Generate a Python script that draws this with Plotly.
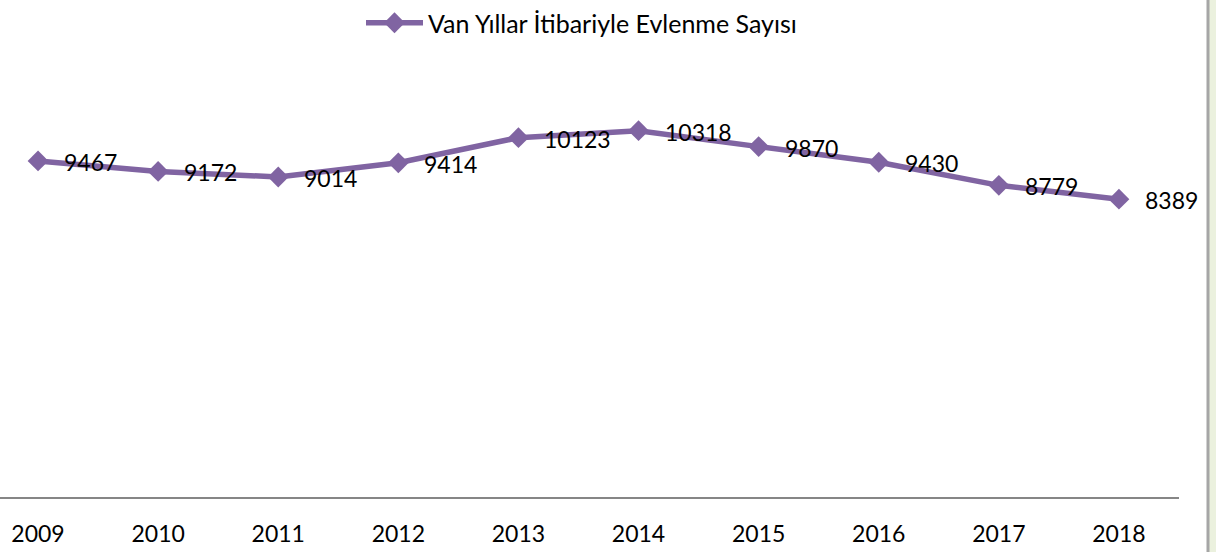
import plotly.graph_objects as go

years = ["2009", "2010", "2011", "2012", "2013", "2014", "2015", "2016", "2017", "2018"]
marriages = [9467, 9172, 9014, 9414, 10123, 10318, 9870, 9430, 8779, 8389]
series_name = "Van Yıllar İtibariyle Evlenme Sayısı"

W, H = 1216, 552
ML, MR, MT, MB = 0, 37, 71, 55
PW = W - ML - MR
PH = H - MT - MB

PURPLE = "#8064A2"
FONT = "Lato"

xs = list(range(len(years)))

fig = go.Figure()
fig.add_trace(go.Scatter(
    x=xs, y=marriages, mode="lines+markers", name=series_name,
    line=dict(color=PURPLE, width=5.5),
    marker=dict(symbol="diamond", size=16, color=PURPLE),
    hoverinfo="skip",
))

for x, v in zip(xs, marriages):
    fig.add_annotation(x=x, y=v, text=str(v), showarrow=False,
                       xanchor="left", yanchor="middle", xshift=24, yshift=-1,
                       font=dict(family=FONT, size=23, color="black"))

def px_x(p):
    return (p - ML) / PW

def px_y(p):
    return (H - MB - p) / PH

# right-side chart border and outer fill
fig.add_shape(type="rect", xref="paper", yref="paper",
              x0=px_x(1208), x1=px_x(1220), y0=px_y(H + 5), y1=px_y(-5),
              fillcolor="#EBF1DE", line=dict(width=0), layer="below")
fig.add_shape(type="line", xref="paper", yref="paper",
              x0=px_x(1208), x1=px_x(1208), y0=px_y(H + 5), y1=px_y(-5),
              line=dict(color="#A6A6A6", width=3))

fig.update_layout(
    width=W, height=H,
    margin=dict(l=ML, r=MR, t=MT, b=MB, pad=0),
    paper_bgcolor="white", plot_bgcolor="white",
    font=dict(family=FONT, size=23, color="black"),
    showlegend=True,
    legend=dict(orientation="h", x=px_x(361), xanchor="left",
                y=px_y(0), yanchor="top", itemwidth=57,
                font=dict(family=FONT, size=25, color="black"),
                bgcolor="rgba(0,0,0,0)"),
    xaxis=dict(range=[-0.3167, 9.5], tickmode="array", tickvals=xs, ticktext=years,
               showgrid=False, zeroline=False, showline=True,
               linecolor="#868686", linewidth=2, ticks="",
               ticklabelstandoff=15,
               tickfont=dict(family=FONT, size=23, color="black")),
    yaxis=dict(range=[0, 12000], visible=False, showgrid=False, zeroline=False),
)

fig.write_html("out.html", config={"displayModeBar": False},
               post_script="document.body.style.margin='0';document.body.style.overflow='hidden';")
